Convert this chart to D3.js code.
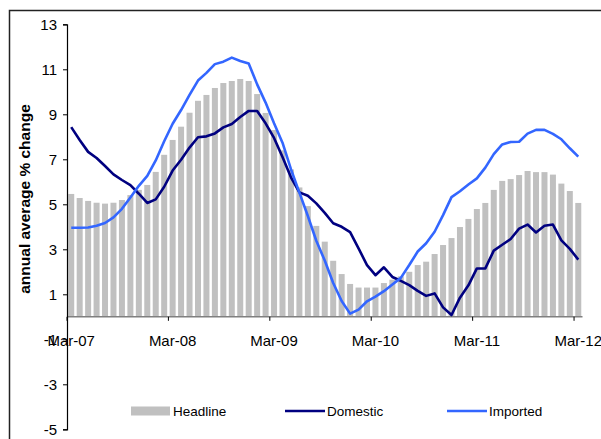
<!DOCTYPE html>
<html>
<head>
<meta charset="utf-8">
<script src="https://cdn.jsdelivr.net/npm/d3@7"></script>
<style>
  html, body { margin: 0; padding: 0; background: #fff; }
  svg { display: block; }
  text { font-family: "Liberation Sans", Arial, sans-serif; fill: #000; }
</style>
</head>
<body>
<svg id="chart" width="601" height="439"></svg>
<script>
// ---- data ----
const monthNames = ["Jan","Feb","Mar","Apr","May","Jun","Jul","Aug","Sep","Oct","Nov","Dec"];
const startYear = 2007, startMonth = 2, nMonths = 61; // Mar-07 .. Mar-12
const categories = d3.range(nMonths).map(i => {
  const m = (startMonth + i) % 12, y = startYear + Math.floor((startMonth + i) / 12);
  return monthNames[m] + "-" + String(y % 100).padStart(2, "0");
});
const tickLabels = ["Mar-07","Mar-08","Mar-09","Mar-10","Mar-11","Mar-12"];
const yTicks = [-5,-3,-1,1,3,5,7,9,11,13];

const headline = [5.46,5.28,5.15,5.07,5.03,5.07,5.19,5.41,5.64,5.86,
  6.44,7.2,7.86,8.45,9.07,9.6,9.86,10.17,10.39,10.48,
  10.57,10.48,9.9,9.06,8.3,7.4,6.55,5.75,4.92,4.04,
  3.34,2.49,1.9,1.46,1.3,1.3,1.3,1.5,1.65,1.8,
  2.0,2.3,2.45,2.79,3.19,3.5,3.99,4.35,4.79,5.06,
  5.64,6.04,6.12,6.3,6.48,6.43,6.43,6.32,5.92,5.59,5.06];
const domestic = [8.43,7.86,7.33,7.06,6.7,6.33,6.08,5.85,5.47,5.06,
  5.22,5.78,6.5,6.98,7.52,7.98,8.02,8.15,8.42,8.57,
  8.88,9.15,9.15,8.6,7.95,7.1,6.2,5.53,5.38,5.04,
  4.62,4.16,4.0,3.76,3.04,2.3,1.85,2.2,1.77,1.6,
  1.41,1.15,0.93,1.04,0.42,0.08,0.85,1.4,2.15,2.15,
  2.94,3.2,3.46,3.92,4.1,3.75,4.05,4.1,3.4,3.02,2.54];
const imported = [3.96,3.96,3.97,4.05,4.17,4.42,4.8,5.3,5.82,6.26,
  6.95,7.8,8.58,9.19,9.86,10.5,10.84,11.23,11.34,11.52,
  11.37,11.26,10.33,9.52,8.6,7.74,6.56,5.52,4.48,3.38,
  2.5,1.5,0.7,0.14,0.32,0.69,0.9,1.14,1.44,1.73,
  2.3,2.9,3.27,3.78,4.52,5.32,5.58,5.88,6.15,6.63,
  7.23,7.66,7.77,7.78,8.14,8.31,8.31,8.13,7.89,7.49,7.12];

const seriesNames = ["Headline","Domestic","Imported"];
const colors = { Headline: "#C0C0C0", Domestic: "#000080", Imported: "#3366FF" };

// ---- layout ----
const svg = d3.select("#chart");
const plot = { left: 67, right: 582.5, top: 24.3, bottom: 429.3 };

// outer frame
svg.append("rect").attr("x", 9.5).attr("y", 10.5).attr("width", 700).attr("height", 600)
  .attr("fill", "none").attr("stroke", "#222").attr("stroke-width", 1.5);

const x = d3.scaleBand().domain(d3.range(nMonths)).range([plot.left, plot.right]).padding(0);
const y = d3.scaleLinear().domain([-5, 13]).range([plot.bottom, plot.top]);
const bw = x.bandwidth();
const barW = bw * 0.71;

// bars
svg.append("g").selectAll("rect").data(headline).join("rect")
  .attr("x", (d, i) => x(i) + (bw - barW) / 2)
  .attr("width", barW)
  .attr("y", d => y(Math.max(0, d)))
  .attr("height", d => Math.abs(y(d) - y(0)))
  .attr("fill", colors.Headline);

// x axis line at zero
svg.append("line").attr("x1", plot.left).attr("x2", plot.right)
  .attr("y1", y(0)).attr("y2", y(0)).attr("stroke", "#808080").attr("stroke-width", 1.5);

// x ticks (at category boundaries, every 12th)
const tickIdx = tickLabels.map(l => categories.indexOf(l));
svg.append("g").selectAll("line").data(tickIdx).join("line")
  .attr("x1", i => x(i)).attr("x2", i => x(i))
  .attr("y1", y(0)).attr("y2", y(0) + 4)
  .attr("stroke", "#000").attr("stroke-width", 1);
svg.append("g").selectAll("text").data(tickIdx).join("text")
  .attr("x", i => x(i) + bw / 2)
  .attr("y", y(0) + 29)
  .attr("text-anchor", "middle")
  .attr("font-size", 15)
  .text(i => categories[i]);

// y axis
const yAxis = d3.axisLeft(y).tickValues(yTicks).tickSize(4).tickPadding(6).tickFormat(d => String(d));
const gy = svg.append("g").attr("transform", `translate(${plot.left},0)`).call(yAxis);
gy.select(".domain").attr("stroke", "#000").attr("stroke-width", 1.2);
gy.selectAll(".tick line").attr("stroke", "#000");
gy.selectAll(".tick text").attr("font-size", 15).attr("font-family", "Liberation Sans, Arial, sans-serif").attr("fill", "#000");

// y title
svg.append("text")
  .attr("transform", `translate(30,199) rotate(-90)`)
  .attr("text-anchor", "middle")
  .attr("font-size", 15.5).attr("font-weight", "bold")
  .text("annual average % change");

// lines
const line = d3.line().x((d, i) => x(i) + bw / 2).y(d => y(d));
[["Domestic", domestic], ["Imported", imported]].forEach(([name, vals]) => {
  svg.append("path").datum(vals)
    .attr("d", line)
    .attr("fill", "none")
    .attr("stroke", colors[name])
    .attr("stroke-width", 2.6)
    .attr("stroke-linejoin", "round");
});

// legend
const legendX = [131, 285, 447];
const lg = svg.append("g");
seriesNames.forEach((name, k) => {
  const g = lg.append("g").attr("transform", `translate(${legendX[k]},411)`);
  if (name === "Headline") {
    g.append("rect").attr("x", 0).attr("y", -4.5).attr("width", 39).attr("height", 9).attr("fill", colors[name]);
  } else {
    g.append("line").attr("x1", 0).attr("x2", 40).attr("y1", 0).attr("y2", 0)
      .attr("stroke", colors[name]).attr("stroke-width", 2.6);
  }
  g.append("text").attr("x", 42).attr("y", 5).attr("font-size", 13.5).text(name);
});
</script>
</body>
</html>
